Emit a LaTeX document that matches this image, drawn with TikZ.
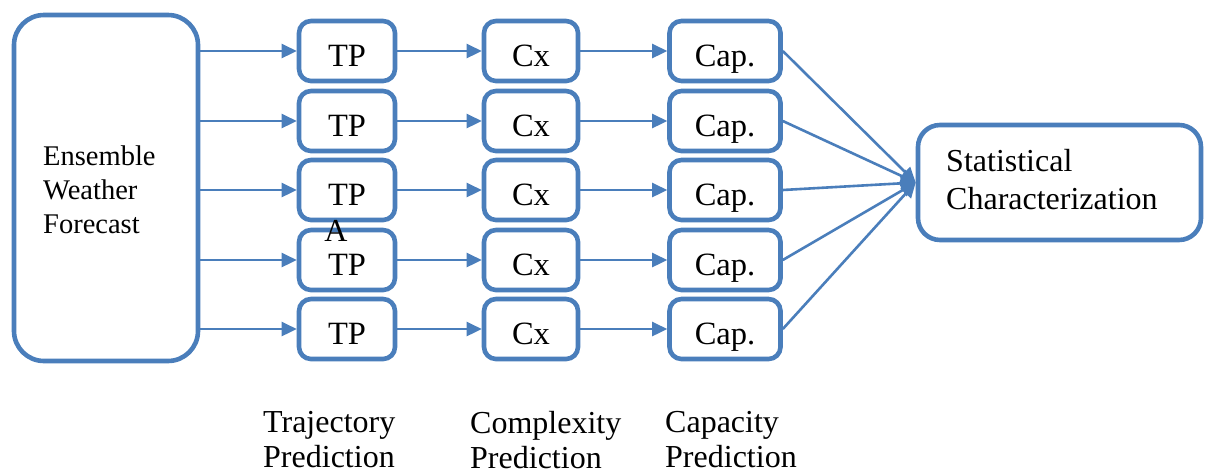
\documentclass[tikz,border=0pt]{standalone}
\usepackage{fontspec}
\setmainfont{Liberation Serif}
\usetikzlibrary{arrows.meta}
\definecolor{bl}{RGB}{74,126,187}
\begin{document}
\begin{tikzpicture}[x=1pt,y=-1pt,
  sbox/.style={draw=bl,line width=4.6pt,rounded corners=12pt,inner sep=0pt,
    font=\fontsize{32.5}{33}\selectfont,text height=30pt,text depth=0pt},
  bbox/.style={draw=bl,line width=4.6pt,rounded corners=30pt,inner sep=0pt},
  arr/.style={draw=bl,line width=2.6pt,-{Triangle[length=15pt,width=14pt]}},
  lbl/.style={align=left,anchor=west,inner sep=0pt}]
\useasboundingbox (0,0) rectangle (1205,475);
\node[bbox,minimum width=184pt,minimum height=346pt] (L) at (106,188) {};
\node[lbl,font=\fontsize{28.5}{34}\selectfont] (Lt) at (43,190) {Ensemble\\Weather\\Forecast};
\foreach \i/\y in {1/51,2/121,3/190,4/260,5/329}{
  \node[sbox,minimum width=96pt,minimum height=60pt] (T\i) at (347,\y) {TP};
  \node[sbox,minimum width=94pt,minimum height=60pt] (C\i) at (531,\y) {Cx};
  \node[sbox,minimum width=111pt,minimum height=60pt] (P\i) at (725,\y) {Cap.};
}
\node[bbox,rounded corners=22pt,minimum width=283pt,minimum height=115pt] (S) at (1059.5,182.5) {};
\node[lbl,font=\fontsize{32}{38}\selectfont] (St) at (946,180) {Statistical\\Characterization};
\node[inner sep=0pt,font=\fontsize{32}{32}\selectfont] (A) at (336,231) {A};
\foreach \i in {1,...,5}{
  \draw[arr] (L.east |- T\i.west) -- (T\i.west);
  \draw[arr] (T\i.east) -- (C\i.west);
  \draw[arr] (C\i.east) -- (P\i.west);
  \draw[arr] (P\i.east) -- (S.west);
}
\node[lbl,font=\fontsize{32}{35}\selectfont] (B1) at (263,440) {Trajectory\\Prediction};
\node[lbl,font=\fontsize{32}{35}\selectfont] (B2) at (470,440) {Complexity\\Prediction};
\node[lbl,font=\fontsize{32}{35}\selectfont] (B3) at (665,440) {Capacity\\Prediction};
\end{tikzpicture}
\end{document}
